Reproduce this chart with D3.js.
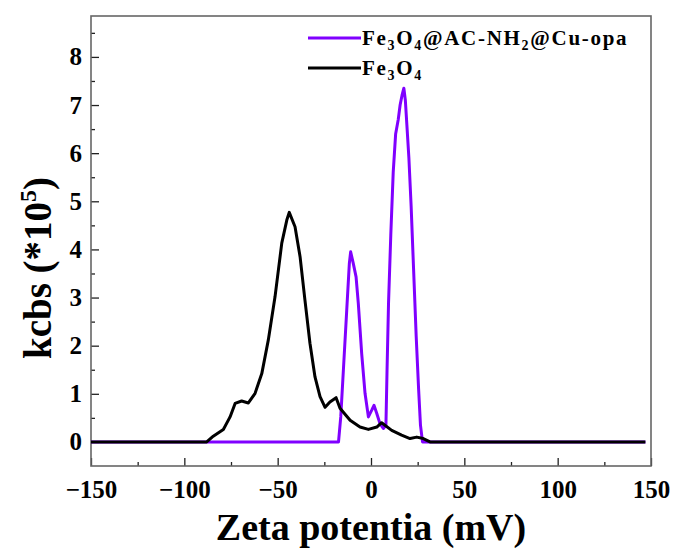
<!DOCTYPE html>
<html>
<head>
<meta charset="utf-8">
<script src="https://cdn.jsdelivr.net/npm/d3@7"></script>
<style>
  body { margin: 0; background: #fff; }
  svg { display: block; font-family: "Liberation Serif", "Times New Roman", serif; font-weight: bold; }
</style>
</head>
<body>
<svg id="chart" width="676" height="552"></svg>
<script>
// Fe3O4 (black)
const zetaFe3O4 = [-150, -88, -84.5, -79.1, -75.5, -72.8, -69.3, -65.7, -62.1, -58.5, -55.0, -51.4, -47.8, -45.1, -43.8, -40.7, -38.0, -35.4, -32.7, -30.0, -27.3, -24.6, -22.0, -18.7, -16.6, -11.2, -5.9, -1.4, 3.1, 5.7, 11.1, 16.4, 20.9, 24.5, 28.0, 31.6, 147];
const kcbsFe3O4 = [0, 0, 0.12, 0.26, 0.52, 0.80, 0.85, 0.81, 1.01, 1.42, 2.12, 3.02, 4.13, 4.61, 4.77, 4.47, 3.85, 2.95, 2.05, 1.35, 0.94, 0.72, 0.83, 0.92, 0.70, 0.45, 0.31, 0.26, 0.31, 0.40, 0.24, 0.14, 0.07, 0.10, 0.07, 0, 0];

// Fe3O4@AC-NH2@Cu-opa (purple)
const zetaComposite = [-150, -17.4, -16.2, -14.8, -13.0, -11.6, -10.9, -9.5, -8.0, -6.8, -5.0, -3.2, -1.4, 0.4, 1.6, 3.1, 4.8, 6.6, 8.0, 8.6, 9.4, 10.6, 11.9, 13.2, 14.6, 15.6, 16.6, 17.6, 18.4, 19.2, 20.3, 21.5, 22.8, 24.2, 25.5, 26.5, 27.6, 147];
const kcbsComposite = [0, 0, 0.52, 1.49, 2.74, 3.71, 3.95, 3.71, 3.43, 2.88, 1.84, 1.01, 0.52, 0.66, 0.76, 0.59, 0.38, 0.28, 0.35, 1.5, 2.9, 4.3, 5.6, 6.4, 6.7, 7.0, 7.2, 7.35, 7.1, 6.6, 5.9, 4.9, 3.6, 2.2, 1.1, 0.35, 0, 0];

const xTicks = [-150, -100, -50, 0, 50, 100, 150];
const xMinorTicks = [-125, -75, -25, 25, 75, 125];
const yTicks = [0, 1, 2, 3, 4, 5, 6, 7, 8];
const yMinorTicks = [0.5, 1.5, 2.5, 3.5, 4.5, 5.5, 6.5, 7.5, 8.5];

const purple = '#8000ff';

const svg = d3.select('#chart');
const margin = { top: 16, right: 25, bottom: 86, left: 91 };
const width = 676, height = 552;
const innerWidth = width - margin.left - margin.right;
const innerHeight = height - margin.top - margin.bottom;

const g = svg.append('g')
    .attr('transform', `translate(${margin.left},${margin.top})`);

const x = d3.scaleLinear().domain([-150, 150]).range([0, innerWidth]);
const y = d3.scaleLinear().domain([-0.5, 8.85]).range([innerHeight, 0]);

// Minor ticks
g.append('g')
    .attr('transform', `translate(0,${innerHeight})`)
    .call(d3.axisBottom(x).tickValues(xMinorTicks).tickSize(-4))
    .call(a => a.select('.domain').remove())
    .call(a => a.selectAll('text').remove());
g.append('g')
    .call(d3.axisLeft(y).tickValues(yMinorTicks).tickSize(-4))
    .call(a => a.select('.domain').remove())
    .call(a => a.selectAll('text').remove());

// X axis
g.append('g')
    .attr('transform', `translate(0,${innerHeight})`)
    .call(d3.axisBottom(x).tickValues(xTicks).tickSize(-8).tickPadding(14))
    .call(a => a.select('.domain').remove())
    .selectAll('text')
    .attr('font-size', '25px')
    .attr('font-family', 'Liberation Serif')
    .attr('fill', '#000');

// Y axis
g.append('g')
    .call(d3.axisLeft(y).tickValues(yTicks).tickSize(-8).tickPadding(9))
    .call(a => a.select('.domain').remove())
    .selectAll('text')
    .attr('font-size', '25px')
    .attr('font-family', 'Liberation Serif')
    .attr('fill', '#000');

g.selectAll('.tick line').attr('stroke', '#222').attr('stroke-width', 1.3);

// Frame
g.append('rect')
    .attr('width', innerWidth)
    .attr('height', innerHeight)
    .attr('fill', 'none')
    .attr('stroke', '#666')
    .attr('stroke-width', 1.6);

// Lines
const line = d3.line()
    .x(d => x(d[0]))
    .y(d => y(d[1]));

g.append('path')
    .datum(d3.zip(zetaComposite, kcbsComposite))
    .attr('fill', 'none')
    .attr('stroke', purple)
    .attr('stroke-width', 3)
    .attr('stroke-linejoin', 'round')
    .attr('d', line);

g.append('path')
    .datum(d3.zip(zetaFe3O4, kcbsFe3O4))
    .attr('fill', 'none')
    .attr('stroke', '#000')
    .attr('stroke-width', 3)
    .attr('stroke-linejoin', 'round')
    .attr('d', line);

// Legend
const legend = svg.append('g');
const legendItems = [
    { color: purple, y: 38, parts: [['Fe', 0], ['3', 1], ['O', 0], ['4', 1], ['@AC-NH', 0], ['2', 1], ['@Cu-opa', 0]] },
    { color: '#000', y: 68, parts: [['Fe', 0], ['3', 1], ['O', 0], ['4', 1]] }
];
legendItems.forEach(item => {
    legend.append('line')
        .attr('x1', 308).attr('x2', 361)
        .attr('y1', item.y).attr('y2', item.y)
        .attr('stroke', item.color)
        .attr('stroke-width', 3);
    const t = legend.append('text')
        .attr('x', 362)
        .attr('y', item.y + 7)
        .attr('font-size', '21px')
        .attr('letter-spacing', '1.7px');
    let shift = 0;
    item.parts.forEach(([s, sub]) => {
        const dy = (sub ? 5 : 0) - shift;
        shift = sub ? 5 : 0;
        t.append('tspan')
            .attr('font-size', sub ? '14px' : '21px')
            .attr('dy', dy)
            .text(s);
    });
});

// Axis titles
svg.append('text')
    .attr('x', margin.left + innerWidth / 2)
    .attr('y', 540)
    .attr('text-anchor', 'middle')
    .attr('font-size', '38px')
    .text('Zeta potentia (mV)');

const yTitle = svg.append('text')
    .attr('transform', 'translate(51,268) rotate(-90)')
    .attr('text-anchor', 'middle')
    .attr('font-size', '39px');
yTitle.append('tspan').text('kcbs (*10');
yTitle.append('tspan').attr('font-size', '24px').attr('dy', -15).text('5');
yTitle.append('tspan').attr('dy', 15).text(')');
</script>
</body>
</html>
